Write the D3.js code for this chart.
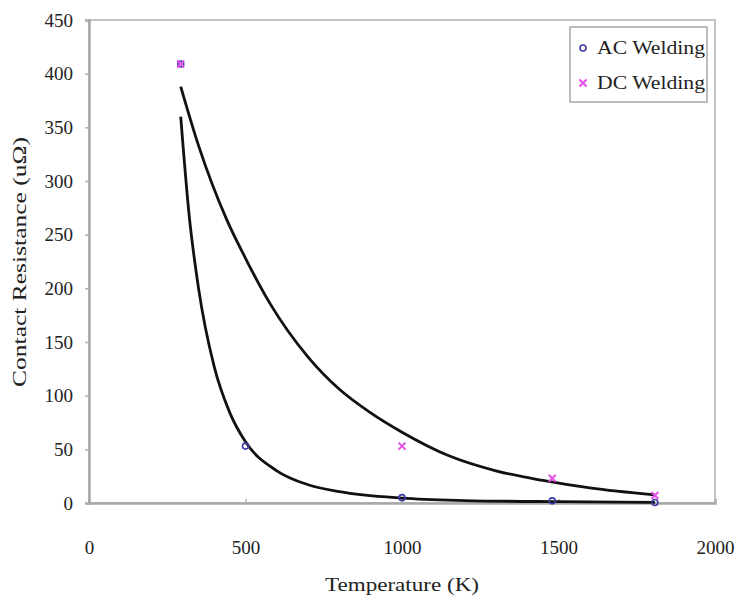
<!DOCTYPE html>
<html>
<head>
<meta charset="utf-8">
<script src="https://cdn.jsdelivr.net/npm/d3@7"></script>
<style>
  body { margin: 0; background: #fff; }
  text { font-family: "Liberation Serif", "Times New Roman", serif; fill: #222; }
</style>
</head>
<body>
<div id="plot"></div>
<script>

// measured points
var acTemp = [293, 500, 1000, 1480, 1808];
var acRes = [409, 53, 5, 2, 0.5];
var dcTemp = [293, 1000, 1480, 1808];
var dcRes = [409, 53, 23, 7];

// trend lines
var acFitT = [293, 320, 350, 400, 450, 500, 600, 700, 800, 1000, 1200, 1500, 1808];
var acFitR = [360, 268, 200, 127, 84, 57, 30, 17, 10.5, 4.5, 2.3, 1.2, 0.6];
var dcFitT = [293, 350, 440, 500, 578, 700, 800, 900, 1000, 1150, 1300, 1450, 1600, 1808];
var dcFitR = [388, 333, 264, 228, 186, 136, 106, 84, 66, 44, 30, 21, 14, 7.5];

var xTicks = [0, 500, 1000, 1500, 2000];
var yTicks = [0, 50, 100, 150, 200, 250, 300, 350, 400, 450];
var seriesNames = ['AC Welding', 'DC Welding'];

var opt = {
	width: 738, height: 601,
	margin: {top: 20, left: 89, right: 23, bottom: 98}
};

var svg = d3.select('#plot').append('svg')
	.attr('width', opt.width)
	.attr('height', opt.height);

var x = d3.scaleLinear().domain([0, 2000]).range([opt.margin.left, opt.width - opt.margin.right]);
var y = d3.scaleLinear().domain([0, 450]).range([opt.height - opt.margin.bottom, opt.margin.top]);

// plot area frame
svg.append('rect')
	.attr('x', x(0)).attr('y', y(450))
	.attr('width', x(2000) - x(0)).attr('height', y(0) - y(450))
	.attr('fill', 'none').attr('stroke', '#c4c4c4').attr('stroke-width', 2);

var yAxis = svg.append('g')
	.attr('transform', 'translate(' + x(0) + ',0)')
	.call(d3.axisLeft(y).tickValues(yTicks).tickFormat(d3.format('d')).tickSize(4).tickPadding(12));
var xAxis = svg.append('g')
	.attr('transform', 'translate(0,' + y(0) + ')')
	.call(d3.axisBottom(x).tickValues(xTicks).tickFormat(d3.format('d')).tickSize(-4).tickPadding(38));

[xAxis, yAxis].forEach(function(a){
	a.attr('font-family', null);
	a.select('.domain').attr('stroke', '#a8a8a8').attr('stroke-width', 2.5);
	a.selectAll('.tick line').attr('stroke', '#b0b0b0').attr('stroke-width', 1.5);
	a.selectAll('.tick text').style('font-size', '19px')
		.style('font-family', '"Liberation Serif", serif').attr('fill', '#222');
});

// trend curves
var line = d3.line()
	.x(function(d){ return x(d[0]); })
	.y(function(d){ return y(d[1]); })
	.curve(d3.curveMonotoneX);

[[acFitT, acFitR], [dcFitT, dcFitR]].forEach(function(s){
	svg.append('path')
		.datum(d3.zip(s[0], s[1]))
		.attr('d', line)
		.attr('fill', 'none')
		.attr('stroke', '#111')
		.attr('stroke-width', 2.8);
});

// markers
function drawX(g, cx, cy, r, color){
	g.append('path')
		.attr('d', 'M' + (cx - r) + ',' + (cy - r) + 'L' + (cx + r) + ',' + (cy + r) +
			'M' + (cx - r) + ',' + (cy + r) + 'L' + (cx + r) + ',' + (cy - r))
		.attr('stroke', color).attr('stroke-width', 2);
}

var acColor = '#3b3ba6', dcColor = '#e64fe6';

svg.selectAll('.ac').data(d3.zip(acTemp, acRes)).enter()
	.append('circle').attr('class', 'ac')
	.attr('cx', function(d){ return x(d[0]); })
	.attr('cy', function(d){ return y(d[1]); })
	.attr('r', 3)
	.attr('fill', 'none').attr('stroke', acColor).attr('stroke-width', 1.6);

var dcg = svg.append('g');
d3.zip(dcTemp, dcRes).forEach(function(d){
	drawX(dcg, x(d[0]), y(d[1]), 3.5, dcColor);
});

// legend
var lg = svg.append('g').attr('transform', 'translate(570,27)');
lg.append('rect').attr('width', 137).attr('height', 75)
	.attr('fill', '#fff').attr('stroke', '#a8a8a8').attr('stroke-width', 1.5);
lg.append('circle').attr('cx', 13).attr('cy', 21).attr('r', 3)
	.attr('fill', 'none').attr('stroke', acColor).attr('stroke-width', 1.6);
drawX(lg, 13, 56, 3.5, dcColor);
seriesNames.forEach(function(n, i){
	lg.append('text').attr('x', 27).attr('y', 27 + i * 35)
		.attr('textLength', 108).attr('lengthAdjust', 'spacingAndGlyphs')
		.style('font-size', '19px').text(n);
});

// axis titles
svg.append('text')
	.attr('x', x(1000)).attr('y', 591)
	.attr('text-anchor', 'middle')
	.attr('textLength', 154).attr('lengthAdjust', 'spacingAndGlyphs')
	.style('font-size', '19px')
	.text('Temperature (K)');

svg.append('text')
	.attr('transform', 'translate(26,262) rotate(-90)')
	.attr('text-anchor', 'middle')
	.attr('textLength', 250).attr('lengthAdjust', 'spacingAndGlyphs')
	.style('font-size', '19px')
	.text('Contact Resistance (uΩ)');

</script>
</body>
</html>
